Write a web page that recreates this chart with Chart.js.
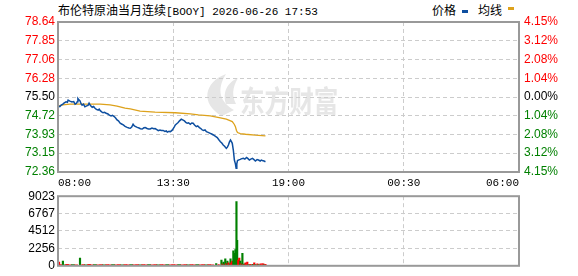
<!DOCTYPE html>
<html>
<head>
<meta charset="utf-8">
<script src="https://cdn.jsdelivr.net/npm/chart.js@4.4.1/dist/chart.umd.min.js"></script>
<style>
  body { margin: 0; background: #fff; width: 578px; height: 276px; overflow: hidden; position: relative; }
  canvas { position: absolute; left: 0; }
  #priceChart { top: 0; }
  #volChart { top: 186px; }
  .txt { position: absolute; top: 2px; font: 12px "Noto Sans CJK SC", sans-serif; line-height: 16px; color: #000; white-space: nowrap; }
  .mono { font-family: "Liberation Mono", monospace; font-size: 11px; }
  .key { position: absolute; width: 6px; height: 3px; }
</style>
</head>
<body>
<div class="txt" style="left:58px">布伦特原油当月连续<span class="mono">[BOOY] 2026-06-26 17:53</span></div>
<div class="txt" style="left:432px">价格</div>
<div class="key" style="left:462px;top:10px;background:#0e4fa0"></div>
<div class="txt" style="left:478px">均线</div>
<div class="key" style="left:508px;top:7px;background:#dda21c"></div>
<canvas id="priceChart" width="578" height="190"></canvas>
<canvas id="volChart" width="578" height="90"></canvas>
<script>
// minutes after 08:00
const timeTicks = [0, 330, 660, 990, 1320];
const timeLabels = ['08:00', '13:30', '19:00', '00:30', '06:00'];

const prevClose = 75.50;
const priceTicks = [72.36, 73.15, 73.93, 74.72, 75.50, 76.28, 77.06, 77.85, 78.64];
const pctLabels = ['4.15%', '3.12%', '2.08%', '1.04%', '0.00%', '1.04%', '2.08%', '3.12%', '4.15%'];
const volTicks = [0, 2256, 4512, 6767, 9023];

const priceMin = [0, 5, 9, 14, 17, 23, 27, 29, 34, 40, 45, 49, 53, 55, 57, 60, 63, 66, 69, 73, 77, 82, 86, 89, 93, 98,
  102, 106, 110, 115, 118, 121, 125, 129, 133, 138, 143, 147, 152, 156, 161, 165, 169, 173, 178, 182, 187, 192, 198,
  203, 207, 211, 215, 218, 221, 224, 227, 232, 236, 241, 246, 250, 255, 259, 264, 269, 274, 278, 283, 287, 292, 296,
  301, 306, 310, 313, 318, 322, 327, 330, 333, 336, 340, 344, 348, 353, 357, 362, 366, 370, 374, 379, 383, 387, 391,
  396, 400, 405, 409, 413, 417, 421, 425, 430, 436, 440, 445, 450, 456, 460, 465, 469, 473, 477, 482, 485, 488, 491,
  494, 497, 499, 502, 505, 508, 510, 512, 514, 518, 522, 526, 531, 535, 540, 544, 548, 552, 557, 561, 565, 570, 574,
  579, 582, 585, 590, 594];
const priceVal = [75.12, 75.10, 75.16, 75.20, 75.24, 75.30, 75.28, 75.37, 75.33, 75.29, 75.31, 75.20, 75.24, 75.30,
  75.44, 75.38, 75.34, 75.22, 75.16, 75.20, 75.09, 75.13, 75.15, 75.24, 75.14, 75.07,
  75.10, 75.03, 74.98, 74.95, 74.99, 74.93, 74.88, 74.84, 74.86, 74.82, 74.79, 74.74, 74.71, 74.73, 74.68, 74.62,
  74.54, 74.50, 74.40, 74.37, 74.33, 74.27, 74.23,
  74.20, 74.19, 74.24, 74.36, 74.30, 74.27, 74.25, 74.23, 74.20, 74.17, 74.16, 74.21, 74.22, 74.18, 74.16, 74.16,
  74.20, 74.17, 74.18, 74.13, 74.09, 74.12, 74.10,
  74.10, 74.06, 74.08, 74.03, 74.06, 74.05, 74.11, 74.18, 74.25, 74.33, 74.38, 74.43, 74.50, 74.57, 74.54, 74.50,
  74.44, 74.40, 74.42, 74.36, 74.41, 74.40, 74.33,
  74.26, 74.29, 74.22, 74.18, 74.12, 74.10, 74.12, 74.05, 74.02, 73.98, 73.95, 73.91, 73.86, 73.80, 73.72, 73.63,
  73.57, 73.49, 73.44, 73.35, 73.40, 73.49, 73.62,
  73.70, 73.62, 73.56, 73.28, 72.86, 72.70, 72.52, 72.70, 72.84, 72.87, 72.89, 72.92, 72.93, 72.90, 72.97, 72.92,
  72.86, 72.90, 72.93, 72.88, 72.82, 72.88, 72.86,
  72.82, 72.86, 72.84, 72.82, 72.79];

const avgMin = [0, 14, 34, 121, 149, 169, 192, 207, 235, 278, 336, 379, 402, 436, 465, 482, 499, 505, 508, 511, 514,
  522, 537, 565, 594];
const avgVal = [75.12, 75.17, 75.20, 75.20, 75.17, 75.12, 75.03, 75.00, 74.91, 74.87, 74.84, 74.79, 74.75, 74.71,
  74.63, 74.57, 74.47, 74.35, 74.26, 74.10, 74.01, 73.97, 73.94, 73.90, 73.87];

// small trickle volume, u = up (red), d = down (green)
const baseMin = [6, 17, 26, 35, 43, 52, 72, 80, 89, 98, 106, 115, 124, 132, 141, 150, 158, 167, 175, 184, 193, 201,
  210, 218, 227, 236, 244, 253, 261, 270, 279, 287, 296, 304, 313, 322, 330, 339, 347, 356, 365, 373, 382, 390, 399,
  408, 416, 425, 433, 442];
const baseVal = [150, 120, 180, 120, 150, 120, 150, 120, 180, 120, 150, 120, 150, 120, 150, 120, 150, 120, 150, 120,
  150, 120, 150, 120, 150, 120, 150, 120, 150, 120, 150, 120, 150, 120, 150, 120, 150, 120, 150, 120, 150, 120, 150,
  120, 150, 120, 150, 120, 150, 120];
const baseDir = 'uduudu' + 'udu' + 'udu' + 'udu' + 'udu' + 'udu' + 'udu' + 'udu' + 'udu' + 'udu' + 'udu' + 'uudu' +
  'udu' + 'udu' + 'udu' + 'ud';

const spikeMin = [3, 14, 63, 453, 460, 468, 471, 474, 477, 479, 482, 485, 488, 491, 494, 496, 499, 502, 505, 508, 511,
  513, 516, 519, 522, 525, 528, 531, 534, 537, 540, 542, 546, 550, 554, 558, 562, 566, 571, 575, 580, 585, 588, 591, 594];
const spikeVal = [490, 610, 1010, 280, 150, 730, 250, 490, 200, 890, 300, 610, 370, 250, 890, 370, 610, 1950, 1620,
  2110, 8330, 3300, 730, 1010, 610, 300, 1620, 200, 250, 370, 150, 490, 150, 200, 150, 200, 370, 150, 250, 150, 250,
  250, 250, 150, 200];
const spikeDir = 'udddududududuuduudddddu' + 'udududuuuduudududuuud' + 'u';

const RED = '#ff0000';
const GREEN = '#008000';
const GRID = '#cccccc';

Chart.defaults.font.family = '"Liberation Sans", Arial, sans-serif';
Chart.defaults.font.size = 12;
Chart.defaults.color = '#000';

function setTicks(list) {
  return scale => { scale.ticks = list.map(v => ({ value: v })); };
}
function fixWidth(w) {
  return scale => { scale.width = w; };
}
function fixHeight(h) {
  return scale => { scale.height = h; };
}
function priceColor(c) {
  const v = c.tick.value;
  if (v > prevClose) return RED;
  if (v < prevClose) return GREEN;
  return '#000';
}

const framePlugin = {
  id: 'frame',
  beforeDraw(chart, args, opts) {
    if (!opts.logo) return;
    const ctx = chart.ctx;
    ctx.save();
    ctx.fillStyle = '#e6e6e6';
    ctx.beginPath();
    ctx.moveTo(222, 116);
    ctx.bezierCurveTo(200, 104, 204, 82, 226, 74);
    ctx.bezierCurveTo(216, 90, 220, 102, 234, 110);
    ctx.closePath();
    ctx.fill();
    ctx.beginPath();
    ctx.moveTo(226, 104);
    ctx.bezierCurveTo(222, 92, 228, 82, 238, 78);
    ctx.bezierCurveTo(232, 88, 232, 96, 236, 104);
    ctx.closePath();
    ctx.fill();
    ctx.translate(240, 112);
    ctx.scale(0.82, 1);
    ctx.font = 'bold 30px "Noto Sans CJK SC"';
    ctx.textBaseline = 'alphabetic';
    ctx.fillText('东方财富', 0, 0);
    ctx.restore();
  },
  afterDatasetsDraw(chart) {
    const a = chart.chartArea;
    const ctx = chart.ctx;
    ctx.save();
    ctx.strokeStyle = '#999999';
    ctx.lineWidth = 2;
    ctx.strokeRect(a.left, a.top, a.right - a.left, a.bottom - a.top);
    ctx.restore();
  }
};

const timeAxis = (showLabels, height) => ({
  type: 'linear',
  min: 0,
  max: 1320,
  offset: false,
  afterBuildTicks: setTicks(timeTicks),
  afterFit: fixHeight(height),
  grid: { color: GRID, drawTicks: false, offset: false },
  border: { display: false, dash: [4, 3] },
  ticks: {
    display: showLabels,
    autoSkip: false,
    maxRotation: 0,
    align: 'inner',
    padding: 4,
    color: '#000',
    font: { family: '"Liberation Mono", monospace', size: 11 },
    callback: (v, i) => timeLabels[i]
  }
});

new Chart(document.getElementById('priceChart'), {
  type: 'line',
  data: {
    datasets: [
      {
        label: '价格',
        data: priceMin.map((m, i) => ({ x: m, y: priceVal[i] })),
        borderColor: '#0e4fa0',
        borderWidth: 1.5,
        pointRadius: 0,
        tension: 0,
        yAxisID: 'y'
      },
      {
        label: '均线',
        data: avgMin.map((m, i) => ({ x: m, y: avgVal[i] })),
        borderColor: '#dda21c',
        borderWidth: 1.3,
        pointRadius: 0,
        tension: 0,
        yAxisID: 'y'
      }
    ]
  },
  options: {
    responsive: false,
    animation: false,
    devicePixelRatio: 1,
    layout: { padding: { top: 22, left: 0, right: 0, bottom: 0 } },
    plugins: {
      legend: { display: false },
      tooltip: { enabled: false },
      frame: { logo: true }
    },
    scales: {
      x: timeAxis(true, 18),
      y: {
        position: 'left',
        min: priceTicks[0],
        max: priceTicks[priceTicks.length - 1],
        afterBuildTicks: setTicks(priceTicks),
        afterFit: fixWidth(58),
        grid: { color: GRID, drawTicks: false },
        border: { display: false, dash: [4, 3] },
        ticks: { padding: 3, color: priceColor, callback: v => v.toFixed(2) }
      },
      y2: {
        position: 'right',
        min: priceTicks[0],
        max: priceTicks[priceTicks.length - 1],
        afterBuildTicks: setTicks(priceTicks),
        afterFit: fixWidth(59),
        grid: { display: false, drawTicks: false },
        border: { display: false },
        ticks: { padding: 5, color: priceColor, callback: (v, i) => pctLabels[i] }
      }
    }
  },
  plugins: [framePlugin]
});

const dirColor = dirs => dirs.split('').map(d => (d === 'u' ? RED : GREEN));

new Chart(document.getElementById('volChart'), {
  type: 'bar',
  data: {
    datasets: [
      {
        label: 'base',
        data: baseMin.map((m, i) => ({ x: m, y: baseVal[i] })),
        backgroundColor: dirColor(baseDir),
        barThickness: 3
      },
      {
        label: 'vol',
        data: spikeMin.map((m, i) => ({ x: m, y: spikeVal[i] })),
        backgroundColor: dirColor(spikeDir),
        barThickness: 1.5
      }
    ]
  },
  options: {
    responsive: false,
    animation: false,
    devicePixelRatio: 1,
    layout: { padding: { top: 10, left: 0, right: 0, bottom: 0 } },
    datasets: { bar: { grouped: false } },
    plugins: {
      legend: { display: false },
      tooltip: { enabled: false },
      frame: { logo: false }
    },
    scales: {
      x: timeAxis(false, 6),
      y: {
        position: 'left',
        min: 0,
        max: volTicks[volTicks.length - 1],
        afterBuildTicks: setTicks(volTicks),
        afterFit: fixWidth(58),
        grid: { color: GRID, drawTicks: false },
        border: { display: false, dash: [4, 3] },
        ticks: { padding: 3, color: '#000', callback: v => String(v) }
      },
      y2: {
        position: 'right',
        min: 0,
        max: volTicks[volTicks.length - 1],
        afterFit: fixWidth(59),
        grid: { display: false, drawTicks: false },
        border: { display: false },
        ticks: { display: false }
      }
    }
  },
  plugins: [framePlugin]
});
</script>
</body>
</html>
